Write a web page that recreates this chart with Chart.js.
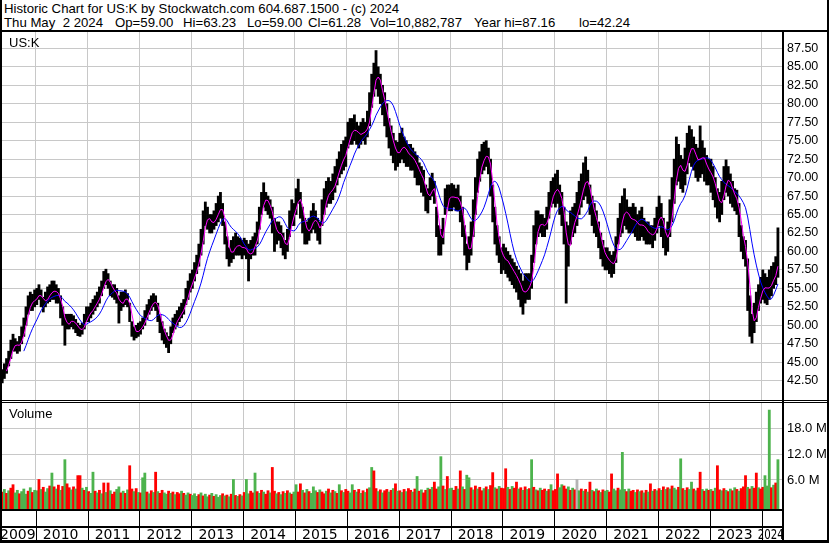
<!DOCTYPE html>
<html>
<head>
<meta charset="utf-8">
<script src="https://cdn.jsdelivr.net/npm/chart.js@4.4.1/dist/chart.umd.min.js"></script>
<style>
  html, body { margin: 0; padding: 0; background: #fff; }
  #wrap { position: relative; width: 830px; height: 543px; overflow: hidden; background: #fff;
          font-family: "Liberation Sans", Arial, sans-serif; color: #000; }
  .t { position: absolute; white-space: pre; font-size: 13.2px; line-height: 13px; }
  .ln { position: absolute; background: #000; }
  canvas { position: absolute; left: 0; }
  #price { top: 32px; }
  #vol { top: 402px; }
</style>
</head>
<body>
<div id="wrap">
  <div class="t" style="left:4px;top:2px">Historic Chart for US:K by Stockwatch.com 604.687.1500 - (c) 2024</div>
  <div class="t" style="left:4px;top:16px">Thu May  2 2024</div>
  <div class="t" style="left:115px;top:16px">Op=59.00</div>
  <div class="t" style="left:183px;top:16px">Hi=63.23</div>
  <div class="t" style="left:247px;top:16px">Lo=59.00</div>
  <div class="t" style="left:308px;top:16px">Cl=61.28</div>
  <div class="t" style="left:370px;top:16px">Vol=10,882,787</div>
  <div class="t" style="left:474px;top:16px">Year hi=87.16</div>
  <div class="t" style="left:579px;top:16px">lo=42.24</div>

  <canvas id="price" width="830" height="368"></canvas>
  <canvas id="vol" width="830" height="141"></canvas>

  <div class="t" style="left:9px;top:36px;font-size:13px">US:K</div>
  <div class="t" style="left:9px;top:407px;font-size:13px">Volume</div>

  <!-- frame -->
  <div class="ln" style="left:0;top:0;width:2px;height:543px"></div>
  <div class="ln" style="left:827px;top:0;width:2px;height:543px"></div>
  <div class="ln" style="left:0;top:30px;width:829px;height:2px"></div>
  <div class="ln" style="left:782px;top:30px;width:2px;height:513px"></div>
  <div class="ln" style="left:0;top:400px;width:829px;height:1px"></div>
  <div class="ln" style="left:0;top:402px;width:829px;height:1px"></div>
  <div class="ln" style="left:0;top:509px;width:784px;height:2px"></div>
  <div class="ln" style="left:0;top:526px;width:784px;height:2px"></div>
  <div class="ln" style="left:0;top:540px;width:829px;height:3px"></div>
</div>

<script>
// ---- data (half-month bars, first one = first half of May 2009) ----
const startYear = 2009, startMonth = 5;
const yearLines = [2010, 2011, 2012, 2013, 2014, 2015, 2016, 2017, 2018, 2019, 2020, 2021, 2022, 2023, 2024];
const yearLabels = [2009, 2010, 2011, 2012, 2013, 2014, 2015, 2016, 2017, 2018, 2019, 2020, 2021, 2022, 2023, 2024];
const priceTicks = [42.5, 45, 47.5, 50, 52.5, 55, 57.5, 60, 62.5, 65, 67.5, 70, 72.5, 75, 77.5, 80, 82.5, 85, 87.5];
const volTicks = [6, 12, 18];

const priceLow = [
  42.2, 42.8, 43.5, 44.5, 45.5, 46.5, 46.5, 46.2, 46.5, 47.5, 48.5, 50.0, 51.5, 52.0, 52.0, 52.5, // 2009
  52.8, 53.5, 52.5, 51.8, 52.5, 53.0, 53.2, 53.5, 53.5, 53.0, 53.0, 51.0, 50.0, 47.3, 49.5, 49.5, 49.8, 49.5, 49.0, 48.6, 48.5, 48.8, 49.5, 50.5, // 2010
  50.5, 51.0, 51.5, 52.0, 52.5, 53.0, 54.0, 55.0, 55.5, 55.0, 54.0, 53.8, 53.5, 53.0, 50.3, 52.0, 52.5, 52.8, 52.5, 50.5, 48.5, 48.0, 48.3, 48.5, // 2011
  48.8, 49.5, 50.0, 50.8, 51.5, 52.0, 52.5, 52.0, 50.5, 49.0, 48.0, 47.5, 47.0, 46.3, 47.5, 49.0, 49.5, 50.0, 50.5, 51.0, 51.5, 52.8, 53.5, 54.5, // 2012
  55.0, 56.0, 57.0, 58.0, 59.5, 61.0, 63.5, 63.0, 62.5, 62.5, 63.0, 63.5, 64.0, 64.5, 63.5, 61.0, 59.0, 58.0, 58.5, 59.0, 59.5, 59.5, 59.5, 59.0, // 2013
  59.5, 59.0, 56.0, 59.0, 59.5, 59.5, 61.0, 63.0, 65.0, 66.0, 65.5, 65.0, 64.5, 62.5, 60.0, 61.0, 61.5, 60.5, 59.5, 59.0, 60.0, 62.0, 63.5, 63.5, // 2014
  65.0, 66.5, 64.5, 62.5, 61.0, 61.0, 61.5, 62.5, 63.0, 62.5, 61.5, 61.0, 63.5, 65.0, 66.0, 66.5, 66.5, 67.0, 68.0, 69.0, 70.0, 70.5, 71.0, 71.5, // 2015
  74.0, 74.5, 74.5, 75.0, 74.5, 74.0, 74.5, 75.0, 74.5, 75.5, 77.0, 79.5, 81.0, 82.0, 81.0, 80.0, 78.5, 77.0, 75.5, 74.0, 73.0, 72.0, 71.0, 71.5, // 2016
  72.0, 72.5, 72.0, 71.5, 71.5, 71.0, 71.0, 70.0, 69.0, 69.0, 68.0, 67.5, 65.5, 65.2, 67.0, 67.5, 66.5, 62.0, 59.5, 59.5, 61.0, 65.0, 66.0, 65.5, // 2017
  65.5, 66.0, 65.5, 65.5, 64.0, 62.0, 59.5, 57.5, 58.5, 59.5, 62.0, 65.0, 68.0, 69.5, 70.5, 71.0, 71.5, 70.5, 67.5, 64.0, 61.0, 59.5, 58.5, 57.0, // 2018
  57.5, 57.0, 56.5, 56.0, 55.5, 55.0, 54.5, 53.5, 52.5, 51.5, 53.0, 53.5, 53.5, 55.0, 58.5, 61.0, 62.0, 62.5, 62.0, 62.0, 63.0, 64.5, 66.0, 66.5, // 2019
  66.0, 66.5, 65.0, 63.5, 61.0, 53.0, 58.0, 61.0, 62.0, 62.5, 63.5, 65.0, 66.0, 67.0, 67.5, 66.5, 65.0, 63.5, 62.5, 62.0, 60.5, 59.0, 58.0, 57.5, // 2020
  57.5, 57.0, 56.5, 57.0, 58.5, 61.0, 62.0, 62.5, 63.5, 63.0, 62.5, 62.5, 62.5, 62.0, 61.5, 61.5, 62.0, 61.5, 61.0, 61.0, 61.0, 60.5, 61.5, 62.5, // 2021
  63.5, 62.0, 60.5, 59.5, 60.0, 62.0, 64.0, 66.5, 69.0, 69.5, 68.5, 68.0, 69.0, 70.5, 72.0, 71.5, 71.0, 70.0, 69.5, 70.0, 70.5, 69.5, 69.0, 69.0, // 2022
  68.0, 67.0, 66.0, 64.5, 64.0, 65.0, 67.0, 68.0, 67.5, 66.5, 66.0, 65.5, 65.0, 62.0, 60.0, 59.0, 58.0, 52.0, 48.5, 47.6, 49.0, 50.5, 52.0, 53.0, // 2023
  53.5, 53.0, 52.8, 53.5, 54.0, 55.0, 55.5, 56.5 // 2024
];
const priceHigh = [
  44.0, 44.8, 45.5, 46.5, 48.0, 48.8, 48.2, 47.8, 48.5, 49.8, 51.0, 52.5, 54.0, 54.5, 54.2, 54.8, // 2009
  55.0, 55.5, 54.8, 53.8, 54.5, 55.2, 55.5, 56.0, 56.0, 55.5, 55.0, 54.0, 52.5, 51.5, 51.5, 51.5, 51.5, 51.3, 50.8, 50.3, 50.0, 50.3, 51.5, 52.5, // 2010
  52.5, 53.0, 53.5, 54.0, 54.5, 55.2, 56.0, 57.3, 57.6, 57.0, 56.0, 55.5, 55.5, 55.0, 54.0, 54.5, 54.5, 54.8, 54.3, 53.0, 50.5, 49.8, 50.0, 50.3, // 2011
  50.5, 51.0, 52.0, 52.8, 53.5, 54.0, 54.3, 54.0, 53.0, 51.5, 50.5, 49.5, 49.0, 48.5, 49.8, 51.0, 51.5, 52.0, 52.5, 53.0, 53.5, 55.0, 56.0, 57.0, // 2012
  57.5, 58.5, 59.5, 61.0, 63.0, 65.5, 66.7, 66.0, 65.0, 65.0, 65.5, 66.5, 67.5, 68.0, 66.5, 64.0, 62.0, 60.5, 61.5, 62.0, 62.5, 62.0, 61.8, 61.5, // 2013
  61.8, 61.5, 61.0, 61.5, 62.0, 62.5, 64.0, 66.0, 68.0, 69.3, 68.0, 67.5, 67.0, 66.0, 64.5, 64.0, 64.0, 63.5, 62.5, 61.5, 63.0, 65.5, 67.0, 66.5, // 2014
  68.5, 69.8, 68.0, 66.0, 64.5, 64.0, 64.5, 65.5, 66.5, 65.5, 64.5, 64.0, 67.0, 68.5, 69.5, 70.0, 69.5, 70.5, 71.5, 72.5, 73.5, 74.5, 75.0, 75.5, // 2015
  77.5, 78.0, 78.0, 78.5, 77.5, 77.0, 77.5, 78.0, 77.5, 79.0, 81.5, 84.0, 85.5, 87.2, 85.0, 84.0, 82.5, 81.5, 80.0, 78.0, 77.0, 76.0, 75.0, 74.8, // 2016
  76.0, 76.7, 75.5, 75.0, 74.5, 74.5, 74.0, 73.5, 73.0, 72.0, 71.5, 71.0, 69.0, 68.5, 70.0, 70.6, 69.5, 66.0, 63.5, 63.0, 64.5, 68.5, 69.0, 69.0, // 2017
  69.2, 69.0, 68.5, 69.0, 67.5, 66.0, 63.5, 61.0, 62.0, 64.0, 67.0, 70.0, 72.5, 73.5, 74.5, 74.8, 75.0, 74.0, 72.5, 69.0, 66.0, 63.5, 62.0, 60.5, // 2018
  61.0, 60.5, 60.0, 59.5, 59.0, 58.5, 58.0, 57.5, 57.0, 56.0, 57.0, 57.0, 57.0, 59.5, 63.5, 65.5, 65.5, 65.0, 65.0, 64.5, 66.0, 68.0, 69.5, 70.0, // 2019
  70.5, 71.0, 69.0, 68.0, 66.0, 64.0, 63.5, 65.5, 66.0, 66.5, 68.0, 69.5, 70.5, 72.0, 72.8, 71.0, 69.0, 67.5, 66.5, 65.5, 64.0, 62.5, 61.5, 60.5, // 2020
  60.5, 60.0, 59.5, 60.0, 62.0, 64.5, 66.5, 67.5, 68.5, 67.0, 66.0, 66.0, 66.5, 66.0, 65.0, 65.5, 66.0, 64.5, 64.0, 64.0, 63.5, 63.5, 64.5, 66.0, // 2021
  67.5, 66.5, 64.5, 63.0, 64.0, 67.0, 70.0, 72.5, 75.5, 74.5, 73.0, 72.5, 74.0, 76.0, 77.0, 76.5, 75.5, 74.5, 74.0, 77.0, 75.0, 74.0, 73.0, 72.5, // 2022
  72.5, 71.5, 70.0, 68.5, 68.0, 69.5, 71.5, 72.4, 71.5, 70.5, 69.5, 68.5, 68.3, 66.5, 63.5, 62.0, 61.5, 59.0, 54.0, 51.5, 53.0, 54.5, 55.5, 56.5, // 2023
  57.5, 57.0, 56.5, 57.5, 58.0, 58.5, 59.3, 63.2 // 2024
];
// volume in millions of shares
const volume = [
  3.2, 3.8, 2.9, 3.5, 4.1, 4.9, 3.0, 3.6, 2.8, 3.3, 3.9, 2.7, 3.4, 4.2, 3.1, 3.6, // 2009
  3.5, 6.1, 3.8, 4.3, 3.2, 4.0, 4.6, 7.6, 4.4, 3.9, 4.8, 3.6, 4.5, 10.7, 5.1, 4.2, 3.7, 4.4, 3.9, 7.0, 7.0, 4.1, 3.6, 4.3, // 2010
  3.3, 2.9, 7.8, 3.4, 3.0, 3.6, 2.8, 5.3, 3.1, 5.3, 3.5, 2.7, 3.2, 3.8, 4.4, 3.0, 3.4, 2.9, 3.7, 9.3, 3.9, 3.3, 4.0, 3.1, // 2011
  3.0, 6.5, 7.6, 3.2, 2.8, 3.5, 3.1, 7.8, 3.3, 2.9, 3.6, 3.0, 2.7, 3.4, 2.9, 3.2, 2.6, 3.1, 2.8, 3.4, 2.9, 2.5, 3.0, 2.7, // 2012
  2.4, 2.8, 2.2, 2.6, 3.0, 2.3, 2.7, 2.1, 2.5, 2.9, 2.2, 2.6, 2.0, 2.4, 2.8, 2.3, 2.5, 2.1, 2.7, 6.1, 2.4, 2.2, 2.6, 2.3, // 2013
  3.1, 6.1, 2.8, 3.4, 3.0, 7.6, 3.3, 2.9, 3.6, 3.2, 2.7, 3.5, 3.0, 8.9, 3.4, 2.8, 3.1, 2.6, 3.3, 2.9, 3.5, 3.0, 2.7, 3.2, // 2014
  4.9, 3.2, 5.1, 3.6, 3.0, 3.8, 3.3, 2.9, 4.4, 3.5, 3.1, 3.7, 3.2, 2.8, 3.4, 3.9, 3.0, 3.6, 3.3, 2.9, 4.9, 3.5, 3.1, 3.8, // 2015
  3.4, 3.0, 4.9, 3.6, 3.2, 3.8, 2.9, 3.5, 3.1, 3.9, 4.2, 8.9, 8.1, 4.0, 3.3, 3.7, 3.0, 3.5, 3.8, 3.2, 3.6, 4.0, 5.1, 3.4, // 2016
  3.5, 3.1, 3.8, 3.3, 4.0, 3.6, 3.2, 3.9, 6.8, 3.4, 3.7, 3.0, 3.6, 4.1, 3.8, 4.3, 5.5, 3.9, 4.4, 11.4, 4.6, 3.8, 6.8, 4.0, // 2017
  4.1, 3.6, 4.5, 3.9, 8.1, 4.4, 3.8, 7.1, 6.5, 4.2, 3.7, 4.6, 3.9, 4.3, 3.5, 4.0, 4.4, 3.8, 4.7, 7.7, 4.2, 3.9, 4.5, 4.1, // 2018
  4.0, 8.6, 4.3, 3.8, 4.5, 4.1, 5.5, 3.9, 4.2, 3.6, 4.4, 3.8, 4.0, 10.7, 4.3, 3.7, 3.5, 4.1, 3.6, 3.9, 3.4, 3.8, 4.9, 3.5, // 2019
  3.8, 7.4, 4.2, 4.9, 4.6, 3.9, 4.4, 3.6, 4.1, 3.7, 6.1, 3.5, 3.9, 3.4, 3.8, 3.2, 5.5, 3.6, 3.3, 3.9, 3.5, 3.1, 3.7, 3.4, // 2020
  3.6, 3.2, 7.4, 3.9, 3.5, 4.1, 3.7, 12.4, 3.8, 3.3, 3.9, 3.4, 3.6, 3.1, 3.7, 3.3, 3.5, 3.0, 3.6, 3.2, 5.1, 3.4, 3.8, 3.5, // 2021
  4.0, 3.6, 4.4, 3.8, 4.2, 3.9, 4.6, 4.1, 3.7, 4.3, 10.9, 4.0, 3.6, 4.2, 3.8, 5.5, 3.9, 3.5, 4.1, 7.8, 3.8, 3.4, 3.9, 3.6, // 2022
  3.8, 3.4, 4.1, 9.3, 3.7, 3.5, 4.0, 3.6, 3.3, 3.9, 3.5, 4.2, 3.8, 3.4, 4.0, 4.4, 7.0, 4.3, 3.9, 4.5, 4.1, 7.6, 4.2, 3.9, // 2023
  4.3, 7.0, 4.6, 22.2, 4.2, 4.8, 5.3, 10.7 // 2024
];
// g = up day, r = down day, n = unchanged
const volDir = [
  "rgrgrrggrgggrgrg",          // 2009
  "grgrggrgrgrgrgrrgrgrrgrg",  // 2010
  "rggrgrgrgrgrrggrgrgrrgrg",  // 2011
  "rggrgrgrgrrggrgrgrrgrggr",  // 2012
  "gggrgrggrgrgggrgrgrgrgrg",  // 2013
  "rggrrgrgrgrrgrrgrgrgrgrg",  // 2014
  "grrgrgrgggrgrrgrgrgrgrgr",  // 2015
  "rggrgrgrgrggrrgrgrrgrgrg",  // 2016
  "rgrgrrgrgrgrrgrgrrggrgrg",  // 2017
  "grrgrgrggrgrgrrgrgrrgrgr",  // 2018
  "rrgrgrrgrgrgrgrgrgrrgrgr",  // 2019
  "rrggrrgrgrngrgrgrgrgrgrg",  // 2020
  "grrggrgggrgrrgrgrgrgrgrg",  // 2021
  "rgrgrgrggrgrgrggrgrrgrgr",  // 2022
  "grgrrgrgrgrgrgrrrgrgrrgr",  // 2023
  "rgggrgrg"                   // 2024
].join("");

// ---- derived series ----
const t0 = startYear + (startMonth - 1) / 12;
const periodX = priceLow.map((_, i) => t0 + (i + 0.5) / 24);
const mids = priceLow.map((lo, i) => (lo + priceHigh[i]) / 2);

// trailing moving average of the bar midpoints
function movingAvg(values, n) {
  return values.map((v, i) => {
    if (i < n - 1) return null;
    let s = 0;
    for (let k = i - n + 1; k <= i; k++) s += values[k];
    return s / n;
  });
}
const maShort = movingAvg(mids, 3);
const maLong = movingAvg(mids, 11);

const colorOf = { g: "#4db34d", r: "#ff0000", n: "#b4b4b4" };

// ---- shared layout ----
const xMin = 2009.350, xMax = 2024.391;
const FONT = '"Liberation Sans", Arial, sans-serif';
const GRID = "#c8c8c8";

function yearAxis() {
  return {
    type: "linear",
    min: xMin,
    max: xMax,
    offset: false,
    afterBuildTicks: (ax) => { ax.ticks = yearLines.map((v) => ({ value: v })); },
    afterFit: (s) => { s.height = 0; s.paddingLeft = 0; s.paddingRight = 0; },
    grid: { color: GRID, drawTicks: false, offset: false },
    border: { display: false },
    ticks: { display: false },
  };
}

// right-hand value axis; no extra room above/below the plot for labels
function valueAxis(min, max, ticks, size, fmt) {
  return {
    position: "right",
    min: min,
    max: max,
    afterBuildTicks: (ax) => { ax.ticks = ticks.map((v) => ({ value: v })); },
    afterFit: (s) => { s.width = 48; s.paddingTop = 0; s.paddingBottom = 0; },
    grid: { color: GRID, drawTicks: false },
    border: { display: false },
    ticks: { padding: 5, color: "#000", font: { family: FONT, size: size }, callback: fmt },
  };
}

new Chart(document.getElementById("price"), {
  type: "bar",
  data: {
    datasets: [
      {
        type: "line",
        data: periodX.map((x, i) => ({ x: x, y: maShort[i] })),
        borderColor: "#ff00ff",
        borderWidth: 1,
        pointRadius: 0,
        order: 1,
      },
      {
        type: "line",
        data: periodX.map((x, i) => ({ x: x, y: maLong[i] })),
        borderColor: "#0000ff",
        borderWidth: 1,
        pointRadius: 0,
        order: 2,
      },
      {
        type: "bar",
        data: periodX.map((x, i) => ({ x: x, y: [priceLow[i], priceHigh[i]] })),
        backgroundColor: "#000",
        barPercentage: 1,
        categoryPercentage: 1,
        order: 3,
      },
    ],
  },
  options: {
    responsive: false,
    animation: false,
    events: [],
    layout: { padding: { left: 2, right: 0, top: 0, bottom: 0 }, autoPadding: false },
    plugins: { legend: { display: false }, tooltip: { enabled: false } },
    scales: {
      x: yearAxis(),
      y: valueAxis(39.89, 89.71, priceTicks, 12.5, (v) => v.toFixed(2)),
    },
  },
});

// year dividers and labels under the volume panel
const yearStrip = {
  id: "yearStrip",
  afterDraw(chart) {
    const { ctx, chartArea } = chart;
    const x = chart.scales.x;
    ctx.save();
    ctx.fillStyle = "#000";
    yearLines.forEach((yr) => {
      const px = Math.round(x.getPixelForValue(yr));
      ctx.fillRect(px, chartArea.bottom, 1, 33);
    });
    ctx.font = "14px 'DejaVu Sans', sans-serif";
    ctx.textAlign = "center";
    ctx.textBaseline = "alphabetic";
    yearLabels.forEach((yr) => {
      const a = Math.max(chartArea.left, x.getPixelForValue(yr));
      const b = Math.min(chartArea.right, x.getPixelForValue(yr + 1));
      ctx.fillText(String(yr), (a + b) / 2 - 1, chartArea.bottom + 30, Math.max(26, b - a + 2));
    });
    ctx.restore();
  },
};

new Chart(document.getElementById("vol"), {
  type: "bar",
  data: {
    datasets: [
      {
        data: periodX.map((x, i) => ({ x: x, y: volume[i] })),
        backgroundColor: periodX.map((_, i) => colorOf[volDir[i]]),
        base: -0.74,
        barPercentage: 1,
        categoryPercentage: 1,
      },
    ],
  },
  options: {
    responsive: false,
    animation: false,
    events: [],
    layout: { padding: { left: 2, right: 0, top: 0, bottom: 34 }, autoPadding: false },
    plugins: { legend: { display: false }, tooltip: { enabled: false } },
    scales: {
      x: yearAxis(),
      y: valueAxis(-0.74, 24.07, volTicks, 13, (v) => v.toFixed(1) + " M"),
    },
  },
  plugins: [yearStrip],
});
</script>
</body>
</html>
